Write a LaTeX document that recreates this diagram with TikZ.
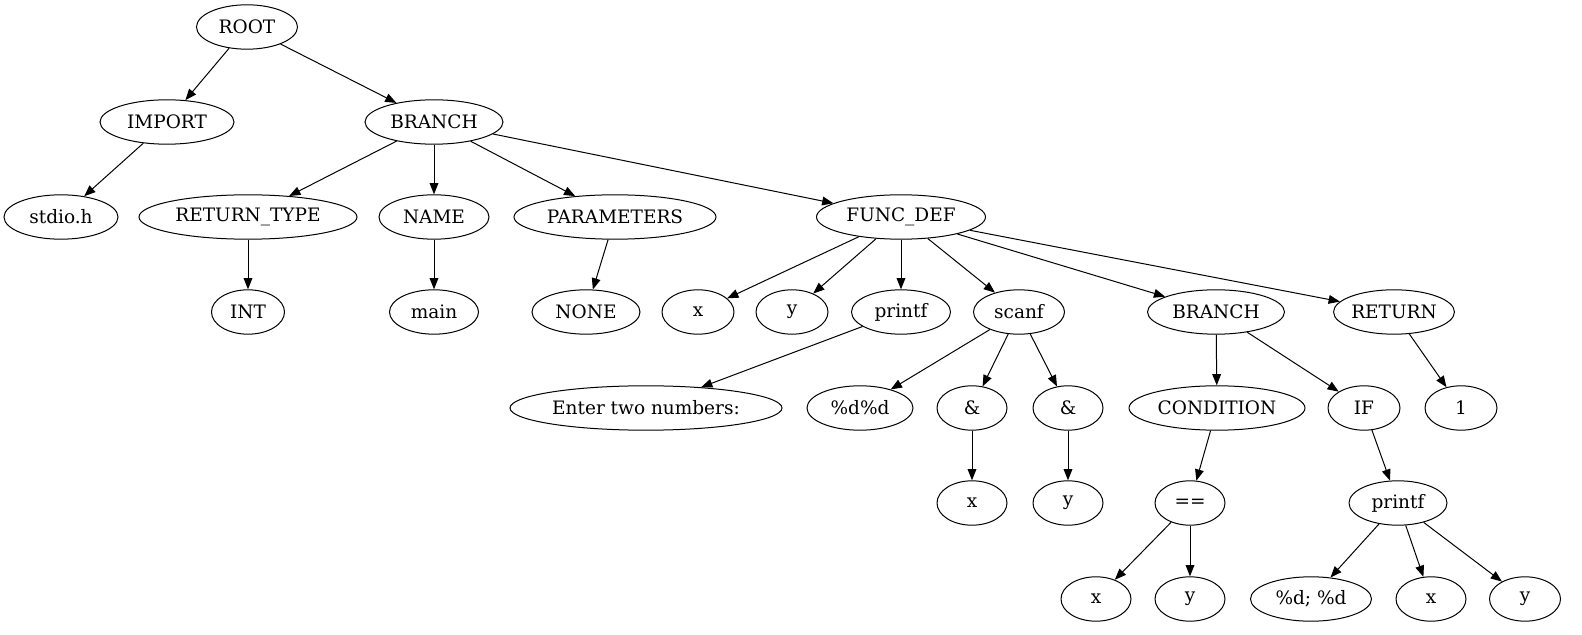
\documentclass[tikz,border=0pt]{standalone}
\usepackage{fontspec}
\setmainfont{DejaVu Serif}
\usetikzlibrary{shapes.geometric,arrows.meta}
\tikzset{
  tn/.style={draw, ellipse, inner sep=0pt, minimum height=35.5pt, line width=0.8pt,
    font=\fontsize{14.8}{17}\selectfont},
  ed/.style={draw, line width=0.8pt, -{Triangle[length=9pt,width=7pt]}}
}
\newcommand{\tnode}[4]{\node[tn, minimum width=#4*0.8pt] (#1) at #2 {#3};}
\begin{document}
\begin{tikzpicture}[x=0.8pt,y=-0.8pt]
\useasboundingbox (0,0) rectangle (1582,635);
\tnode{root}{(247,27)}{ROOT}{101}
\tnode{import}{(167,122)}{IMPORT}{134}
\tnode{branch}{(434,122)}{BRANCH}{138}
\tnode{stdio}{(61,217)}{stdio.h}{114}
\tnode{rettype}{(248,217)}{RETURN\_TYPE}{218}
\tnode{name}{(434,217)}{NAME}{110}
\tnode{params}{(615,217)}{PARAMETERS}{202}
\tnode{funcdef}{(901,217)}{FUNC\_DEF}{169}
\tnode{int}{(248,312)}{INT}{73}
\tnode{main}{(434,312)}{main}{89}
\tnode{none}{(586,312)}{NONE}{108}
\tnode{xa}{(698,312)}{x}{72}
\tnode{ya}{(792,312)}{y}{72}
\tnode{printfa}{(901,312)}{printf}{99}
\tnode{scanf}{(1019,312)}{scanf}{91}
\tnode{branchb}{(1216,312)}{BRANCH}{137}
\tnode{return}{(1394,312)}{RETURN}{84}
\tnode{enter}{(646,408)}{Enter two numbers:}{272}
\tnode{dd}{(860,408)}{\%d\%d}{106}
\tnode{ampa}{(972,408)}{\&}{70}
\tnode{ampb}{(1068,408)}{\&}{70}
\tnode{cond}{(1217,408)}{CONDITION}{176}
\tnode{if}{(1364,408)}{IF}{72}
\tnode{one}{(1461,408)}{1}{72}
\tnode{xb}{(972,503)}{x}{70}
\tnode{yb}{(1068,503)}{y}{70}
\tnode{eq}{(1190,503)}{==}{70}
\tnode{printfb}{(1398,503)}{printf}{98}
\tnode{xc}{(1096,599)}{x}{70}
\tnode{yc}{(1190,599)}{y}{70}
\tnode{fmt}{(1311,599)}{\%d; \%d}{121}
\tnode{xd}{(1431,599)}{x}{70}
\tnode{yd}{(1525,599)}{y}{71}

\foreach \a/\b in {root/import, root/branch, import/stdio,
  branch/rettype, branch/name, branch/params, branch/funcdef,
  rettype/int, name/main, params/none,
  funcdef/xa, funcdef/ya, funcdef/printfa, funcdef/scanf, funcdef/branchb, funcdef/return,
  printfa/enter, scanf/dd, scanf/ampa, scanf/ampb, ampa/xb, ampb/yb,
  branchb/cond, branchb/if, return/one, cond/eq, if/printfb,
  eq/xc, eq/yc, printfb/fmt, printfb/xd, printfb/yd}
  \draw[ed] (\a) -- (\b);
\end{tikzpicture}
\end{document}
